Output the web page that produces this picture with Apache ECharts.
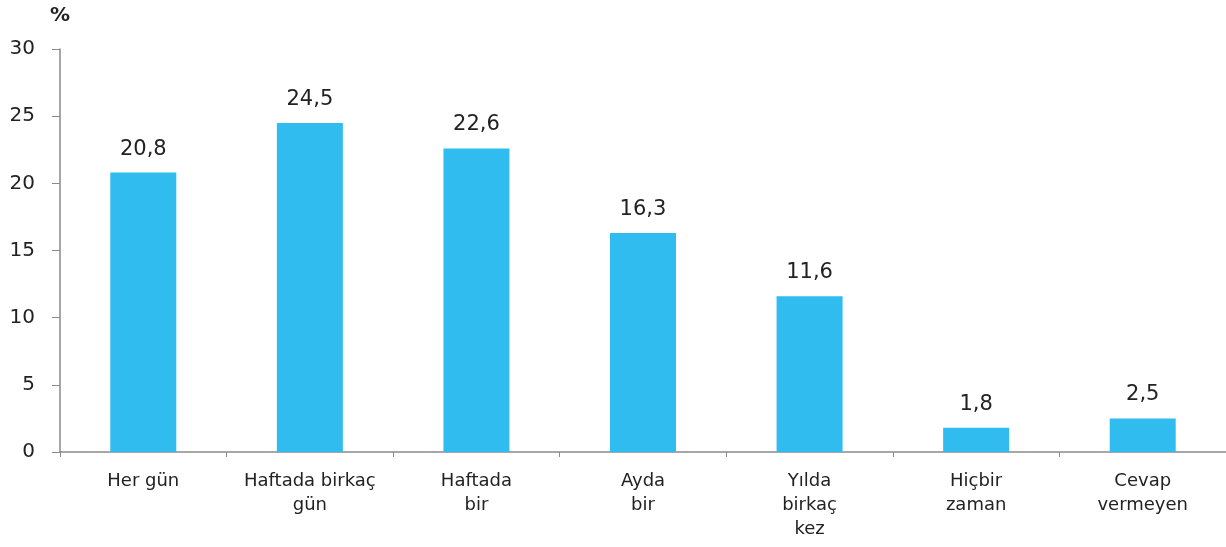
<!DOCTYPE html>
<html>
<head>
<meta charset="utf-8">
<script src="https://cdn.jsdelivr.net/npm/echarts@6/dist/echarts.min.js"></script>
<style>
  html, body { margin: 0; padding: 0; background: #fff; }
  #chart { width: 1226px; height: 547px; }
</style>
</head>
<body>
<div id="chart"></div>
<script>
// kategoriler ve yüzdeler
var categories = ['Her gün', 'Haftada birkaç\ngün', 'Haftada\nbir', 'Ayda\nbir', 'Yılda\nbirkaç\nkez', 'Hiçbir\nzaman', 'Cevap\nvermeyen'];
var values = [20.8, 24.5, 22.6, 16.3, 11.6, 1.8, 2.5];
var yTicks = [0, 5, 10, 15, 20, 25, 30];

var myChart = echarts.init(document.getElementById('chart'));

var font = 'DejaVu Sans';
var textColor = '#222';

option = {
    animation: false,
    grid: {left: 60, right: -8, top: 49, bottom: 95},
    xAxis: {
        type: 'category',
        data: categories,
        axisLine: {lineStyle: {color: '#8a8a8a', width: 1.5}},
        axisTick: {show: true, length: 5, lineStyle: {color: '#8a8a8a'}},
        axisLabel: {
            color: textColor, fontFamily: font, fontSize: 18,
            lineHeight: 24, margin: 17, interval: 0
        }
    },
    yAxis: {
        type: 'value',
        min: yTicks[0],
        max: yTicks[yTicks.length - 1],
        interval: 5,
        name: '%',
        nameLocation: 'end',
        nameGap: 23,
        nameTextStyle: {color: textColor, fontFamily: font, fontSize: 20, fontWeight: 'bold', align: 'center'},
        splitLine: {show: false},
        axisLine: {show: true, lineStyle: {color: '#8a8a8a', width: 1.5}},
        axisTick: {show: true, length: 8, lineStyle: {color: '#8a8a8a'}},
        axisLabel: {color: textColor, fontFamily: font, fontSize: 20, margin: 25}
    },
    series: [{
        type: 'bar',
        data: values,
        barWidth: 66,
        itemStyle: {color: '#31bcef'},
        label: {
            show: true,
            position: 'top',
            distance: 13,
            color: textColor,
            fontFamily: font,
            fontSize: 21,
            formatter: function (p) {
                return p.value.toFixed(1).replace('.', ',');
            }
        }
    }]
};

myChart.setOption(option);
</script>
</body>
</html>
